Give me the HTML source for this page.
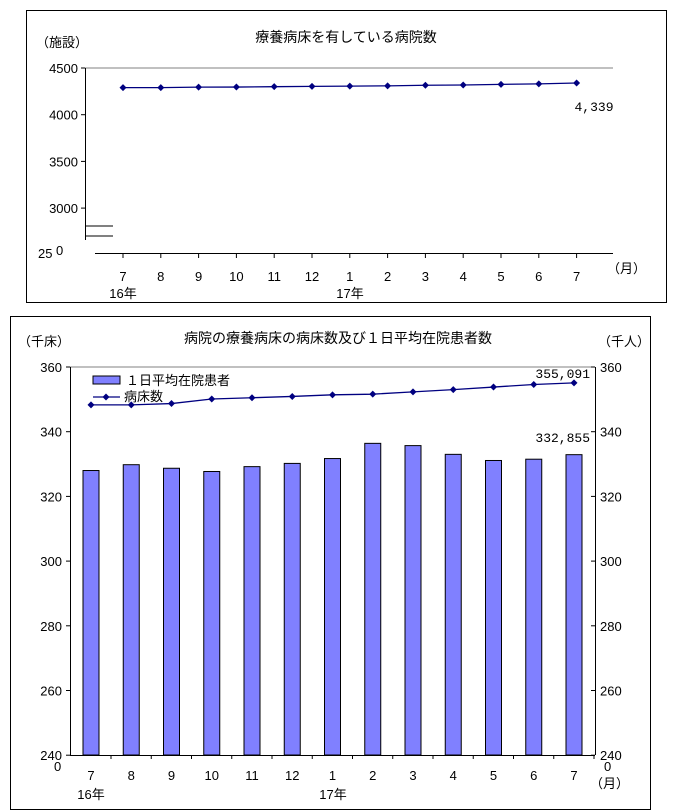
<!DOCTYPE html>
<html><head><meta charset="utf-8"><style>
body{margin:0;background:#fff;width:677px;height:811px;overflow:hidden}
svg{position:absolute;left:0;top:0}
text{font-family:"Liberation Sans","Noto Sans CJK JP",sans-serif;font-size:13px;fill:#000}
text.mono{font-family:"Liberation Mono",monospace}
text.title{font-size:14px}
</style></head><body>
<svg id="s" width="677" height="811"></svg>
<script>
const months=["7","8","9","10","11","12","1","2","3","4","5","6","7"];
const hospitals=[4290,4290,4295,4296,4300,4303,4306,4309,4315,4318,4325,4330,4339];
const topTicks=[3000,3500,4000,4500];
const patients=[328.0,329.8,328.7,327.7,329.2,330.2,331.7,336.4,335.7,333.0,331.1,331.5,332.9];
const beds=[348.3,348.3,348.7,350.1,350.5,350.9,351.4,351.6,352.3,353.0,353.8,354.6,355.1];
const botTicks=[240,260,280,300,320,340,360];
const NS="http://www.w3.org/2000/svg",s=document.getElementById('s');
function el(t,a,txt,p){const e=document.createElementNS(NS,t);for(const k in a)e.setAttribute(k,a[k]);if(txt!=null)e.textContent=txt;(p||s).appendChild(e);return e;}
function diamond(x,y,p){return el('path',{d:`M${x} ${y-3.5}L${x+3.5} ${y}L${x} ${y+3.5}L${x-3.5} ${y}Z`,fill:'#000080'},null,p);}
// top chart
let g1=el('g',{});


el('rect',{x:26.5,y:10.5,width:640,height:292,fill:'none',stroke:'#000'},null,g1);
el('text',{x:346,y:42,'text-anchor':'middle',class:'title'},'療養病床を有している病院数',g1);
el('text',{x:36,y:47},'（施設）',g1);
const ty=v=>68+(4500-v)/500*46.7, tx=i=>123+i*37.8;
el('line',{x1:85,y1:68,x2:613,y2:68,stroke:'#808080'},null,g1);
el('line',{x1:85.5,y1:68,x2:85.5,y2:240,stroke:'#000'},null,g1);
topTicks.forEach(v=>{el('line',{x1:85,y1:ty(v),x2:81,y2:ty(v),stroke:'#000'},null,g1);el('text',{x:78,y:ty(v)+5,'text-anchor':'end'},v,g1);});
el('text',{x:38,y:258},'25',g1);el('text',{x:56,y:255},'0',g1);
el('line',{x1:85,y1:226,x2:113,y2:226,stroke:'#000'},null,g1);
el('line',{x1:85,y1:236,x2:113,y2:236,stroke:'#000'},null,g1);
el('line',{x1:95,y1:253.5,x2:613,y2:253.5,stroke:'#000'},null,g1);
months.forEach((m,i)=>{el('line',{x1:tx(i),y1:253,x2:tx(i),y2:258,stroke:'#000'},null,g1);el('text',{x:tx(i),y:281,'text-anchor':'middle'},m,g1);});
el('text',{x:123,y:298,'text-anchor':'middle'},'16年',g1);
el('text',{x:350,y:298,'text-anchor':'middle'},'17年',g1);
el('text',{x:607,y:273},'（月）',g1);
el('polyline',{points:hospitals.map((v,i)=>tx(i)+','+ty(v)).join(' '),fill:'none',stroke:'#000080','stroke-width':1.3},null,g1);
hospitals.forEach((v,i)=>{const d=diamond(tx(i),ty(v),g1);});
el('text',{x:594,y:111,'text-anchor':'middle',class:'mono'},'4,339',g1);
// bottom chart
let g2=el('g',{});


el('rect',{x:10.5,y:316.5,width:640,height:493,fill:'none',stroke:'#000'},null,g2);
el('text',{x:338,y:343,'text-anchor':'middle',class:'title'},'病院の療養病床の病床数及び１日平均在院患者数',g2);
el('text',{x:18,y:346},'（千床）',g2);
el('text',{x:598,y:346},'（千人）',g2);
const by=v=>367+(360-v)/20*64.7, bx=i=>91+i*40.25;
el('line',{x1:70,y1:367,x2:595,y2:367,stroke:'#808080'},null,g2);
el('line',{x1:70.5,y1:367,x2:70.5,y2:755,stroke:'#000'},null,g2);
el('line',{x1:595.5,y1:367,x2:595.5,y2:755,stroke:'#000'},null,g2);
el('line',{x1:70,y1:755.5,x2:595,y2:755.5,stroke:'#000'},null,g2);
botTicks.forEach(v=>{el('line',{x1:66,y1:by(v),x2:70,y2:by(v),stroke:'#000'},null,g2);el('line',{x1:595,y1:by(v),x2:591,y2:by(v),stroke:'#000'},null,g2);
el('text',{x:62,y:by(v)+5,'text-anchor':'end'},v,g2);el('text',{x:600,y:by(v)+5},v,g2);});
el('text',{x:54,y:771},'0',g2);el('text',{x:604,y:771},'0',g2);
patients.forEach((v,i)=>{const r=el('rect',{x:bx(i)-8,y:by(v),width:16,height:755-by(v),fill:'#8080ff',stroke:'#000'},null,g2);});
months.forEach((m,i)=>{el('line',{x1:bx(i)+20,y1:755,x2:bx(i)+20,y2:759,stroke:'#000'},null,g2);el('text',{x:bx(i),y:780,'text-anchor':'middle'},m,g2);});
el('text',{x:91,y:799,'text-anchor':'middle'},'16年',g2);
el('text',{x:333,y:799,'text-anchor':'middle'},'17年',g2);
el('text',{x:590,y:788},'（月）',g2);
el('polyline',{points:beds.map((v,i)=>bx(i)+','+by(v)).join(' '),fill:'none',stroke:'#000080','stroke-width':1.3},null,g2);
beds.forEach((v,i)=>{const d=diamond(bx(i),by(v),g2);});
el('text',{x:590,y:378,'text-anchor':'end',class:'mono'},'355,091',g2);
el('text',{x:590,y:442,'text-anchor':'end',class:'mono'},'332,855',g2);
let lg=el('g',{},null,g2);


el('rect',{x:93,y:376,width:27,height:8,fill:'#8080ff',stroke:'#000'},null,lg);
el('text',{x:126,y:385},'１日平均在院患者',lg);
el('line',{x1:93,y1:397,x2:120,y2:397,stroke:'#000080','stroke-width':1.3},null,lg);
diamond(106,397,lg);
el('text',{x:124,y:401},'病床数',lg);
</script>
</body></html>
